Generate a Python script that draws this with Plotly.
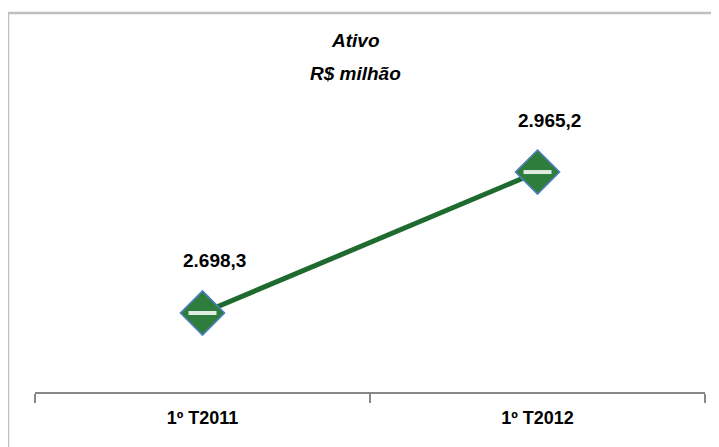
import plotly.graph_objects as go

categories = ["1º T2011", "1º T2012"]
values = [2698.3, 2965.2]
value_labels = ["2.698,3", "2.965,2"]

FONT = "Liberation Sans, Arial, sans-serif"

fig = go.Figure()
fig.add_trace(go.Scatter(
    x=categories, y=values, mode="lines",
    line=dict(color="#1f6b2f", width=5),
    hoverinfo="skip", showlegend=False,
))
fig.add_trace(go.Scatter(
    x=categories, y=values, mode="markers",
    marker=dict(symbol="diamond", size=34, color="#2e7d3c",
                line=dict(color="#4f7fc4", width=1.5)),
    showlegend=False,
))
fig.add_trace(go.Scatter(
    x=categories, y=values, mode="markers",
    marker=dict(symbol="line-ew", size=20,
                line=dict(color="rgba(255,255,255,0.85)", width=4)),
    showlegend=False, hoverinfo="skip",
))

for c, v, t in zip(categories, values, value_labels):
    fig.add_annotation(x=c, y=v, text="<b>" + t + "</b>", showarrow=False,
                       xshift=12, yshift=52,
                       font=dict(family=FONT, size=19, color="black"))

fig.add_annotation(xref="paper", yref="paper", x=0.479, y=1.0, yanchor="top",
                   yshift=-8,
                   text="<b><i>Ativo</i></b>",
                   showarrow=False, align="center",
                   font=dict(family=FONT, size=19, color="black"))
fig.add_annotation(xref="paper", yref="paper", x=0.479, y=1.0, yanchor="top",
                   yshift=-41,
                   text="<b><i>R$ milhão</i></b>",
                   showarrow=False, align="center",
                   font=dict(family=FONT, size=19, color="black"))

fig.add_shape(type="rect", xref="paper", yref="paper",
              x0=-0.0403, x1=1.03, y0=-0.2, y1=1.0188,
              line=dict(color="#bfbfbf", width=2.5), layer="below")

fig.update_layout(
    width=711, height=439,
    margin=dict(l=27, r=14, t=12, b=55),
    paper_bgcolor="white", plot_bgcolor="white",
    xaxis=dict(type="category", range=[-0.5, 1.5], showgrid=False,
               showline=True, linecolor="#878787", linewidth=2,
               ticks="outside", tickson="boundaries", ticklen=9,
               tickcolor="#878787", tickwidth=2,
               tickfont=dict(family=FONT, size=18, color="black"),
               ticklabelstandoff=8, zeroline=False),
    yaxis=dict(range=[2548.7, 3253.1], visible=False, showgrid=False,
               zeroline=False),
)
fig.update_xaxes(ticktext=["<b>" + c + "</b>" for c in categories],
                 tickvals=categories)

fig.write_html("out.html")
